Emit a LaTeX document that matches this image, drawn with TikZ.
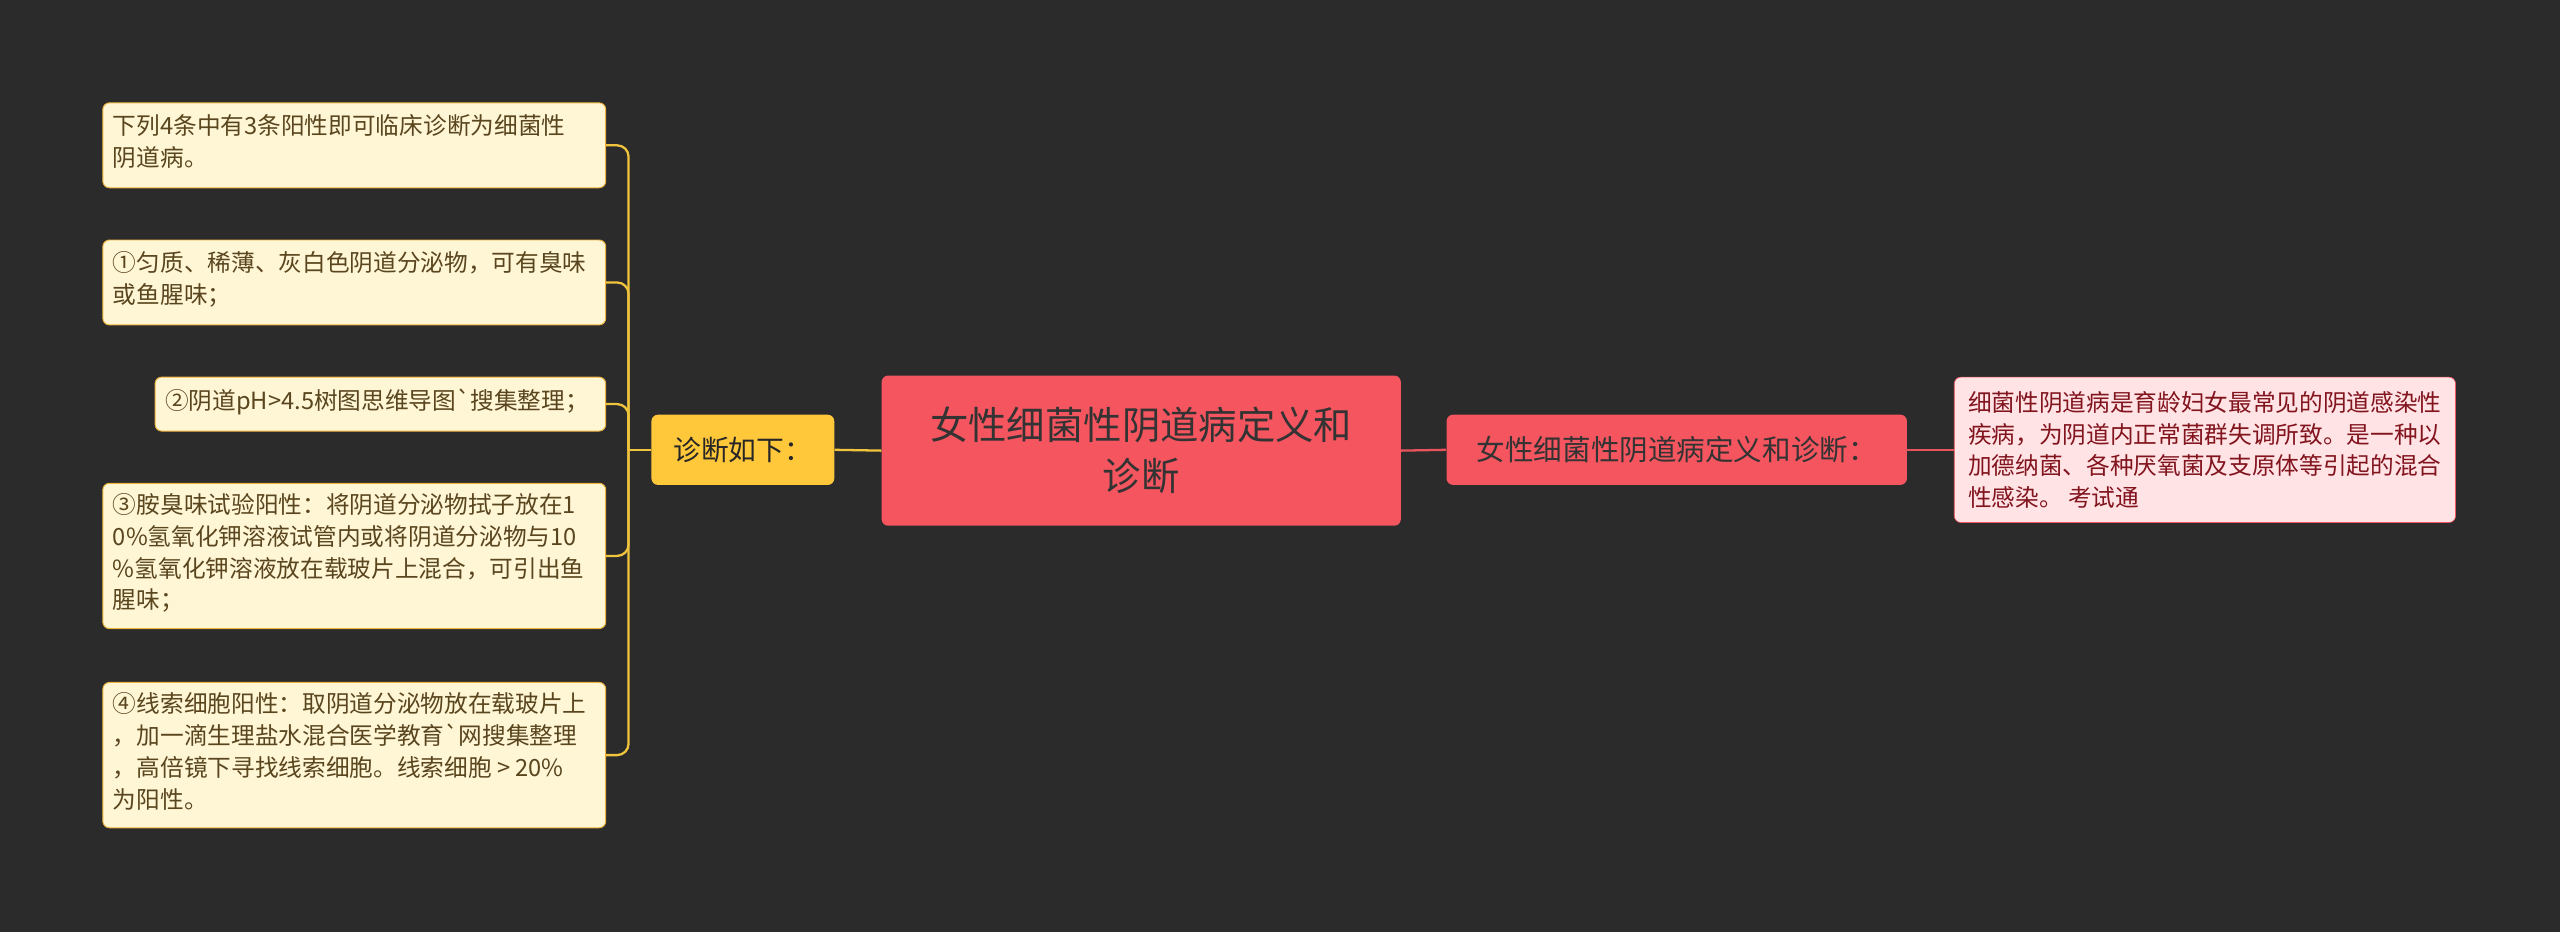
\documentclass[tikz,border=0pt]{standalone}
\usepackage{fontspec}
\setmainfont{Noto Sans CJK SC}
\begin{document}
\begin{tikzpicture}[x=1pt,y=-1pt,
  box/.style={draw=cyel!70!brown,fill=ccream,rounded corners=4pt,line width=0.6pt},
  ltext/.style={anchor=north west,font=\fontsize{14.5}{19.5}\selectfont,text={rgb,255:red,90;green,70;blue,30},align=left,inner sep=0pt},
  ylink/.style={draw={rgb,255:red,240;green,196;blue,60},line width=1.4pt,rounded corners=7pt},
  rlink/.style={draw={rgb,255:red,232;green,84;blue,94},line width=1.4pt}]
\definecolor{bg}{RGB}{43,43,43}
\definecolor{cred}{RGB}{244,85,95}
\definecolor{cpink}{RGB}{255,227,229}
\definecolor{cyel}{RGB}{255,199,58}
\definecolor{ccream}{RGB}{255,246,214}
\fill[bg] (0,0) rectangle (1568,571);
\useasboundingbox (0,0) rectangle (1568,571);
\node[fill=cred,rounded corners=4pt,minimum width=318pt,minimum height=92pt,align=center,font=\fontsize{23.5}{31}\selectfont,text=black!80] (c) at (699,276) {女性细菌性阴道病定义和\\诊断};
\node[fill=cred,rounded corners=4pt,minimum width=282pt,minimum height=43pt,font=\fontsize{17.5}{20}\selectfont,text=black!80] (r1) at (1027,275.5) {女性细菌性阴道病定义和诊断：};
\node[draw=cred,fill=cpink,rounded corners=4pt,minimum width=307pt,minimum height=89pt,align=left,font=\fontsize{14.5}{19.5}\selectfont,text={rgb,255:red,130;green,20;blue,30},inner sep=0pt] (r2) at (1350.5,275.5) {细菌性阴道病是育龄妇女最常见的阴道感染性\\疾病，为阴道内正常菌群失调所致。是一种以\\加德纳菌、各种厌氧菌及支原体等引起的混合\\性感染。 考试通};
\node[fill=cyel,rounded corners=4pt,minimum width=112pt,minimum height=43pt,font=\fontsize{17}{20}\selectfont,text=black!85] (lm) at (455,275.5) {诊断如下：};
\draw[rlink] (c.east) -- (r1.west);
\draw[rlink] (r1.east) -- (r2.west);
\draw[ylink] (c.west) -- (lm.east);
\node[box,minimum width=308pt,minimum height=52pt] (l1) at (217,89) {};
\node[ltext] at (69,70) {下列4条中有3条阳性即可临床诊断为细菌性\\阴道病。};
\node[box,minimum width=308pt,minimum height=52pt] (l2) at (217,173) {};
\node[ltext] at (69,154) {①匀质、稀薄、灰白色阴道分泌物，可有臭味\\或鱼腥味；};
\node[box,minimum width=276pt,minimum height=33pt] (l3) at (233,247.5) {};
\node[ltext] at (101,238) {②阴道pH>4.5树图思维导图\textasciigrave 搜集整理；};
\node[box,minimum width=308pt,minimum height=89pt] (l4) at (217,340.5) {};
\node[ltext] at (69,302) {③胺臭味试验阳性：将阴道分泌物拭子放在1\\0\%氢氧化钾溶液试管内或将阴道分泌物与10\\\%氢氧化钾溶液放在载玻片上混合，可引出鱼\\腥味；};
\node[box,minimum width=308pt,minimum height=89pt] (l5) at (217,462.5) {};
\node[ltext] at (69,424) {④线索细胞阳性：取阴道分泌物放在载玻片上\\，加一滴生理盐水混合医学教育\textasciigrave 网搜集整理\\，高倍镜下寻找线索细胞。线索细胞 > 20\%\\为阳性。};
\coordinate (j) at (385,275.5);
\draw[ylink] (lm.west) -- (j);
\foreach \n in {l1,l2,l3,l4,l5} \draw[ylink] (j) |- (\n.east);
\end{tikzpicture}
\end{document}
